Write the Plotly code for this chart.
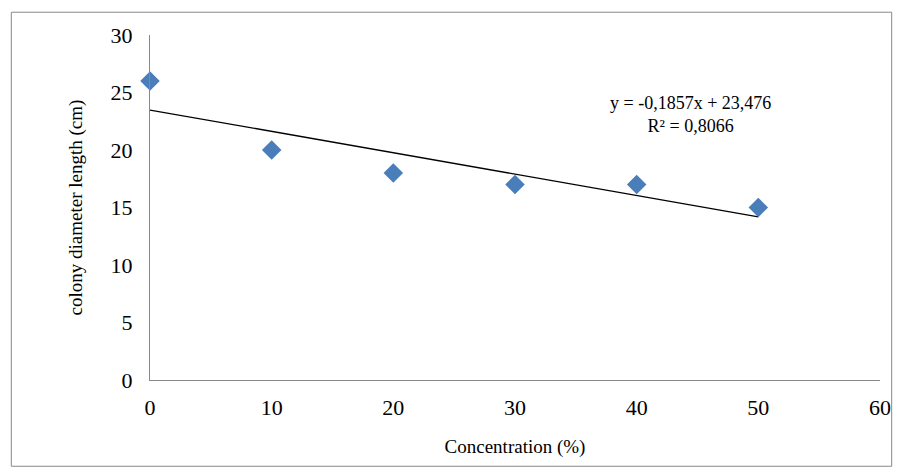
import numpy as np
import plotly.graph_objects as go

concentration = [0, 10, 20, 30, 40, 50]
diameter = [26, 20, 18, 17, 17, 15]

slope, intercept = np.polyfit(concentration, diameter, 1)
trend_x = [concentration[0], concentration[-1]]
trend_y = [slope * x + intercept for x in trend_x]

fig = go.Figure()
fig.add_trace(go.Scatter(x=trend_x, y=trend_y, mode="lines",
                         line=dict(color="black", width=1.3), showlegend=False))
fig.add_trace(go.Scatter(x=concentration, y=diameter, mode="markers",
                         marker=dict(symbol="diamond", size=15, color="#4a7ebb"),
                         showlegend=False, cliponaxis=False))

fig.add_annotation(x=44.4, y=23.1, text="y = -0,1857x + 23,476<br>R² = 0,8066",
                   showarrow=False, font=dict(size=18, color="black"))

axis_font = dict(family="Liberation Serif", size=22, color="black")
fig.update_xaxes(range=[0, 60], dtick=10, showline=True, linecolor="#888",
                 showgrid=False, zeroline=False, ticks="", tickfont=axis_font,
                 ticklabelstandoff=8, automargin=False,
                 title=dict(text="Concentration (%)", font=dict(size=19), standoff=20))
fig.update_yaxes(range=[0, 30], dtick=5, showline=True, linecolor="#888",
                 showgrid=False, zeroline=False, ticks="", tickfont=axis_font,
                 ticklabelstandoff=12, automargin=False,
                 title=dict(text="colony diameter length (cm)", font=dict(size=19), standoff=22))
fig.update_layout(
    width=893, height=468, plot_bgcolor="white", paper_bgcolor="white",
    font=dict(family="Liberation Serif", color="black"),
    margin=dict(l=142, r=21, t=27, b=96),
)
fig.add_shape(type="rect", xref="paper", yref="paper", x0=-0.19, x1=1.016, y0=-0.25, y1=1.066,
              line=dict(color="#888", width=1))
fig.write_html("out.html")
